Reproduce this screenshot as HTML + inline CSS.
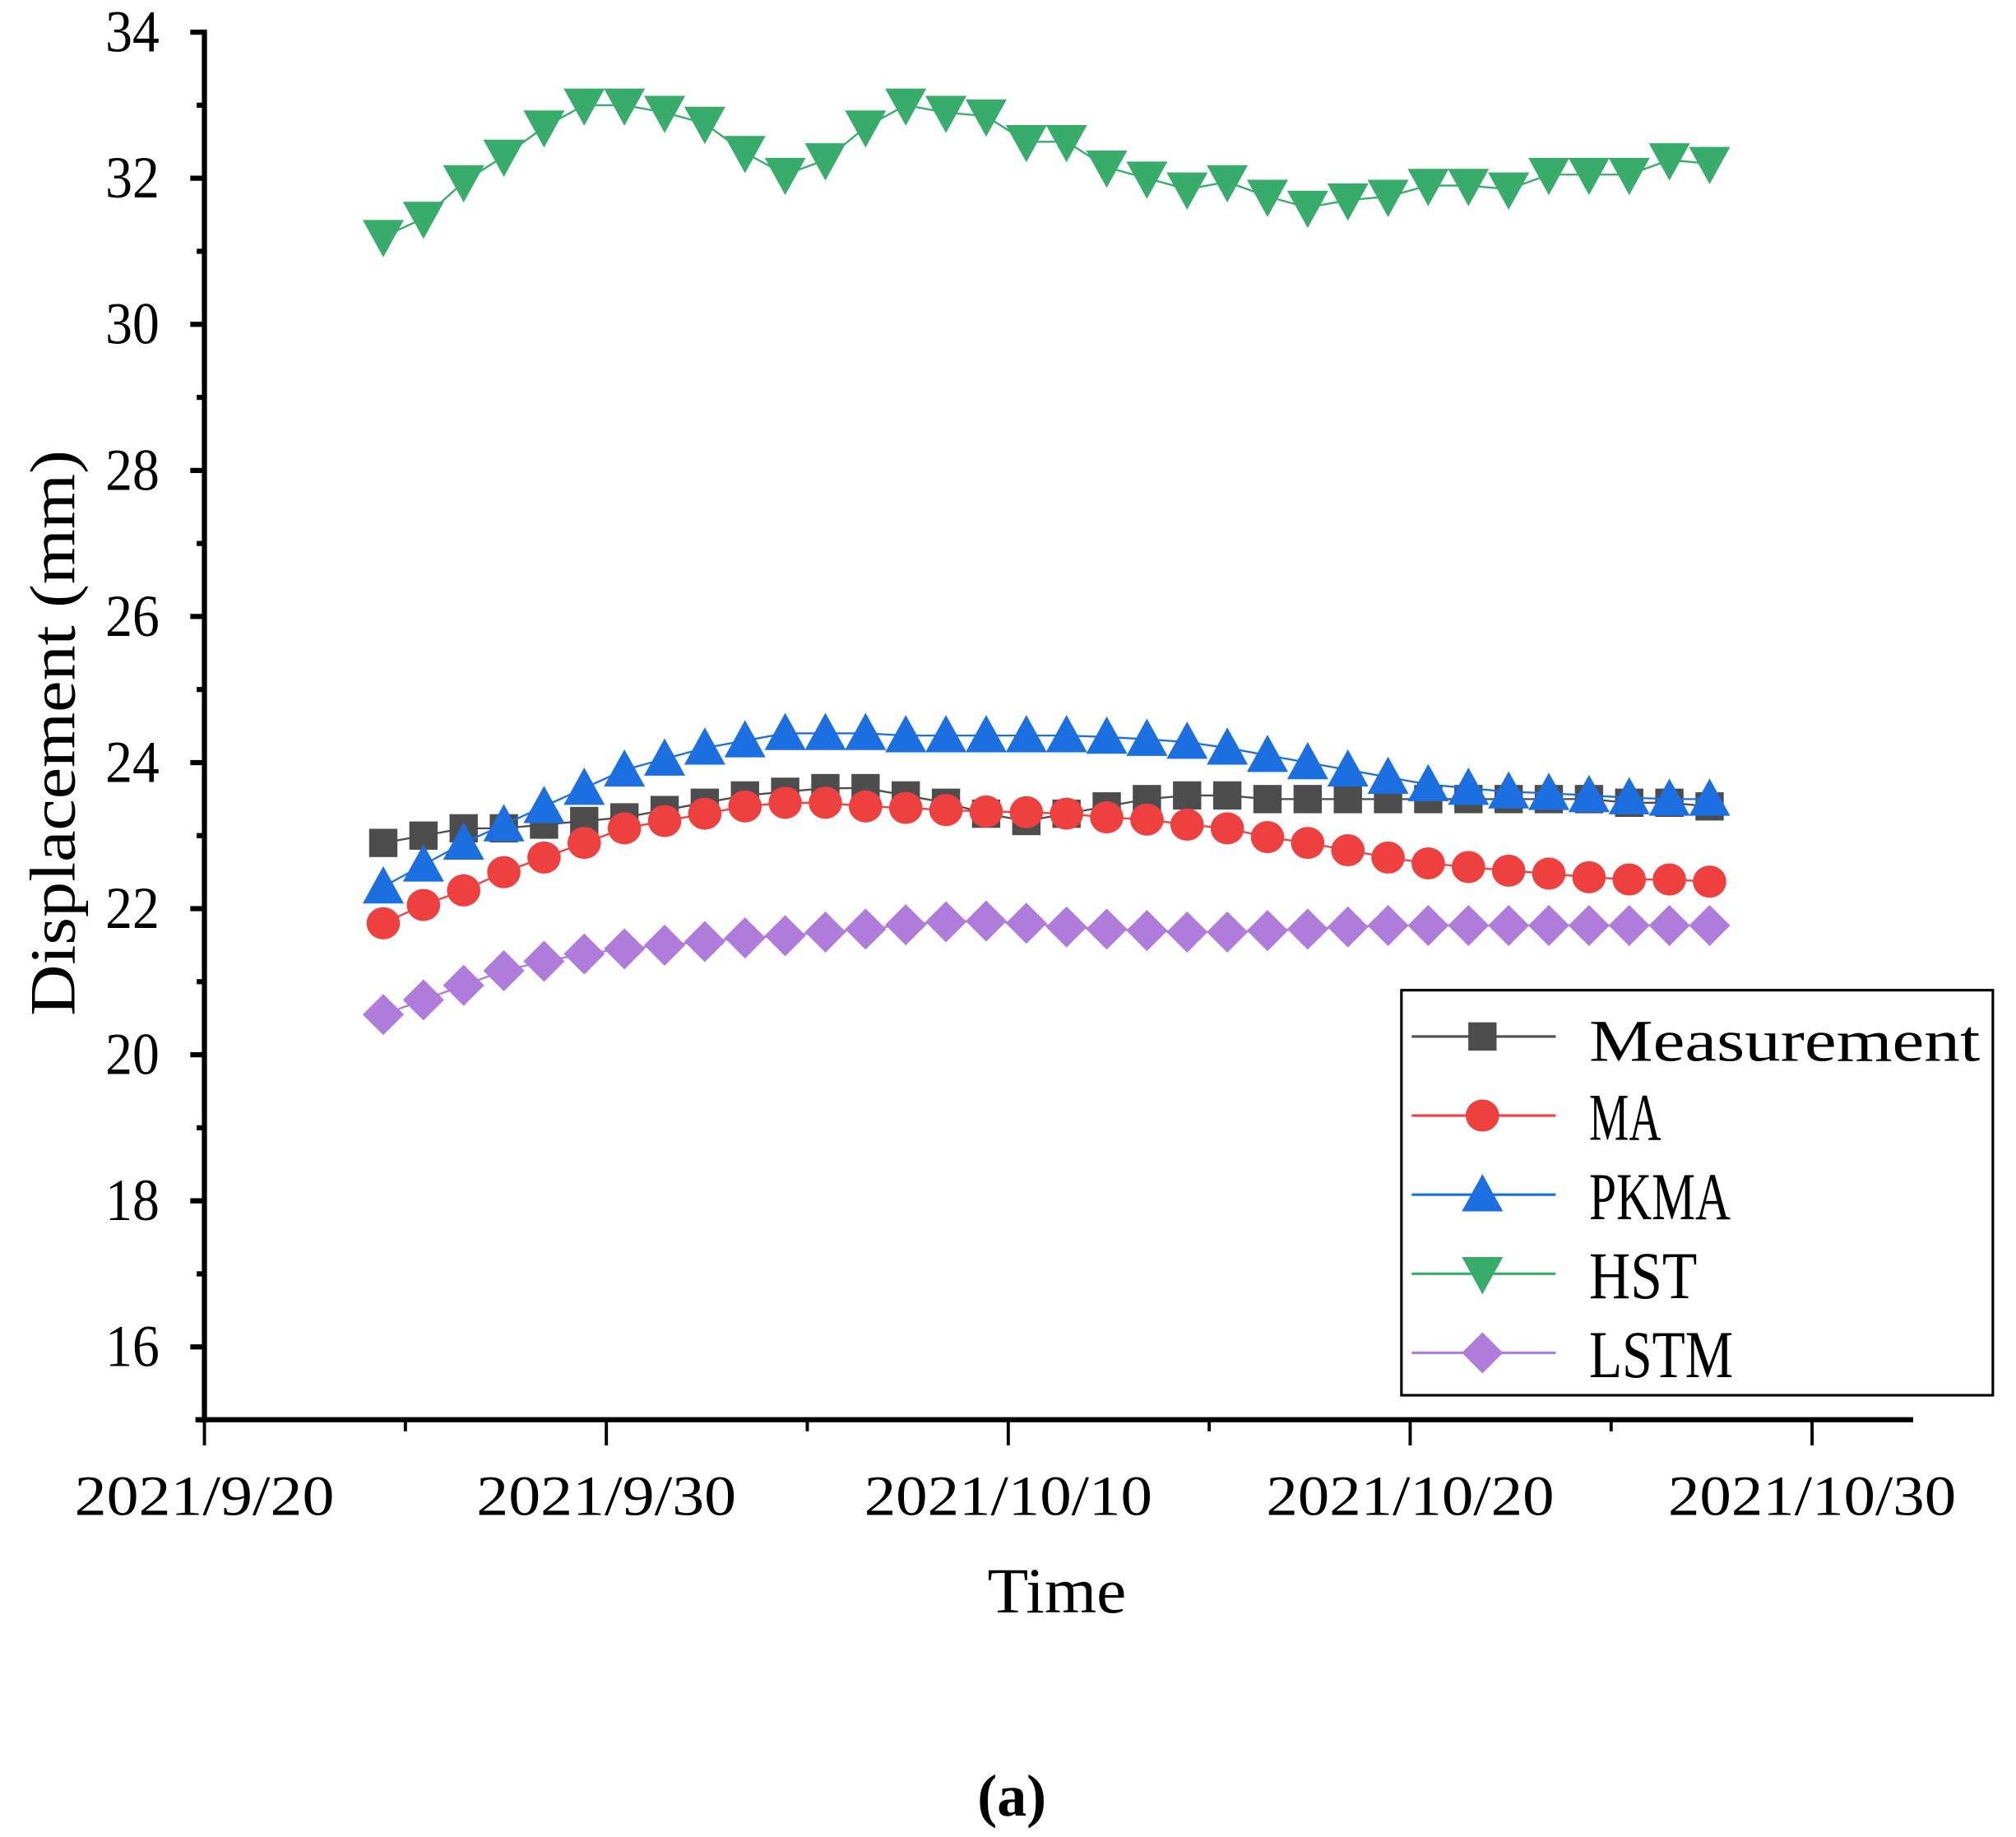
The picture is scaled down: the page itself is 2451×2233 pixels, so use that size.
<!DOCTYPE html>
<html><head><meta charset="utf-8"><style>html,body{margin:0;padding:0;background:#fff}svg{display:block}</style></head>
<body>
<svg id="chart" width="2451" height="2233" viewBox="0 0 1568 1428.5" xmlns="http://www.w3.org/2000/svg" font-family="'Liberation Serif', serif">
<rect width="1568" height="1428.5" fill="#fff"/>
<g id="axes"></g>
<g id="series"></g>
<g id="legend"></g>
</svg>
<script>
const categoriesStartDay = 4.45; // days after 2021/9/20 for first point
const measurement = [22.9,23.0,23.1,23.1,23.15,23.2,23.25,23.35,23.45,23.55,23.6,23.65,23.65,23.55,23.45,23.3,23.2,23.3,23.4,23.5,23.55,23.55,23.5,23.5,23.5,23.5,23.5,23.5,23.5,23.5,23.5,23.45,23.45,23.4];
const ma = [21.8,22.05,22.25,22.5,22.7,22.9,23.1,23.2,23.3,23.4,23.45,23.45,23.4,23.38,23.35,23.33,23.32,23.3,23.25,23.22,23.15,23.1,22.98,22.9,22.8,22.7,22.62,22.57,22.52,22.48,22.43,22.4,22.4,22.37];
const pkma = [22.3,22.6,22.9,23.15,23.4,23.65,23.9,24.05,24.2,24.3,24.4,24.4,24.4,24.37,24.37,24.37,24.37,24.37,24.35,24.32,24.28,24.2,24.1,24.0,23.9,23.8,23.7,23.65,23.6,23.58,23.55,23.52,23.5,23.5];
const hst = [31.2,31.45,31.95,32.3,32.7,33.0,33.0,32.9,32.75,32.35,32.05,32.25,32.7,33.0,32.9,32.85,32.5,32.5,32.15,32.0,31.85,31.95,31.75,31.6,31.7,31.75,31.9,31.9,31.85,32.05,32.05,32.05,32.25,32.2];
const lstm = [20.55,20.75,20.95,21.15,21.28,21.38,21.45,21.5,21.55,21.6,21.63,21.68,21.72,21.78,21.82,21.83,21.8,21.75,21.72,21.7,21.68,21.68,21.7,21.72,21.75,21.77,21.77,21.77,21.77,21.77,21.77,21.77,21.77,21.77];
const yTicks = [16,18,20,22,24,26,28,30,32,34];
const xTickLabels = ["2021/9/20","2021/9/30","2021/10/10","2021/10/20","2021/10/30"];
const xTickDays = [0,10,20,30,40];

const NS="http://www.w3.org/2000/svg";
function X(d){return 159+d*31.26;}
function Y(v){return 25+(34-v)*56.8;}
function mk(tag,attrs,parent){const e=document.createElementNS(NS,tag);for(const k in attrs)e.setAttribute(k,attrs[k]);parent.appendChild(e);return e;}
const axes=document.getElementById('axes');
let yl=mk('line',{x1:159,y1:23,x2:159,y2:1106,stroke:'#000','stroke-width':4},axes);


for(let v=15;v<=34;v++){
  const major=v%2===0;
  const t=mk('line',{x1:major?148:153,y1:Y(v),x2:159,y2:Y(v),stroke:'#000','stroke-width':4},axes);
  
  
}
yTicks.forEach(v=>{
  const t=mk('text',{x:124,y:Y(v)+15,'font-size':46,'text-anchor':'end',textLength:42,lengthAdjust:'spacingAndGlyphs'},axes);
  t.textContent=v;
  
  
});
let xl=mk('line',{x1:152,y1:1104,x2:1488,y2:1104,stroke:'#000','stroke-width':4},axes);


for(let d=0;d<=40;d+=5){
  const major=d%10===0;
  const t=mk('line',{x1:X(d),y1:1104,x2:X(d),y2:major?1124:1113,stroke:'#000','stroke-width':2.5},axes);
  
  
}
xTickLabels.forEach((s,i)=>{
  const w=s.length>9?224:202;
  const t=mk('text',{x:X(xTickDays[i]),y:1178,'font-size':44,'text-anchor':'middle',textLength:w,lengthAdjust:'spacingAndGlyphs'},axes);
  t.textContent=s;
  
  
});
let xt=mk('text',{x:822,y:1254,'font-size':50,'text-anchor':'middle',textLength:108,lengthAdjust:'spacingAndGlyphs'},axes);
xt.textContent='Time';


let yt=mk('text',{x:0,y:0,'font-size':50,'text-anchor':'middle',textLength:440,lengthAdjust:'spacingAndGlyphs',transform:'translate(58,570) rotate(-90)'},axes);
yt.textContent='Displacement (mm)';


let cap=mk('text',{x:787,y:1412,'font-size':46,'font-weight':'bold','text-anchor':'middle'},axes);
cap.textContent='(a)';



function marker(type,cx,cy,color,parent){
  let e;
  if(type==='square') e=mk('rect',{x:cx-11,y:cy-11,width:22,height:22,fill:color},parent);
  else if(type==='circle') e=mk('ellipse',{cx:cx,cy:cy,rx:13,ry:12.5,fill:color},parent);
  else if(type==='up') e=mk('polygon',{points:`${cx},${cy-16} ${cx-16},${cy+13} ${cx+16},${cy+13}`,fill:color},parent);
  else if(type==='down') e=mk('polygon',{points:`${cx-16},${cy-13} ${cx+16},${cy-13} ${cx},${cy+16}`,fill:color},parent);
  else e=mk('polygon',{points:`${cx},${cy-16} ${cx+16},${cy} ${cx},${cy+16} ${cx-16},${cy}`,fill:color},parent);
  return e;
}
const seriesDefs=[
  {name:'Measurement',data:measurement,color:'#4d4d4d',m:'square',key:'measurement'},
  {name:'MA',data:ma,color:'#ef4040',m:'circle',key:'ma'},
  {name:'PKMA',data:pkma,color:'#1c6fe0',m:'up',key:'pkma'},
  {name:'HST',data:hst,color:'#38ad6b',m:'down',key:'hst'},
  {name:'LSTM',data:lstm,color:'#b07cdc',m:'diamond',key:'lstm'}
];
const sg=document.getElementById('series');
seriesDefs.forEach(s=>{
  const g=mk('g',{},sg);
  
  
  const pts=s.data.map((v,i)=>X(categoriesStartDay+i)+','+Y(v)).join(' ');
  const pl=mk('polyline',{points:pts,fill:'none',stroke:s.color,'stroke-width':1.5},g);
  
  
  s.data.forEach((v,i)=>{
    const p=marker(s.m,X(categoriesStartDay+i),Y(v),s.color,g);
    
    
  });
});
const lg=document.getElementById('legend');


mk('rect',{x:1090,y:770,width:460,height:315,fill:'#fff',stroke:'#000','stroke-width':2},lg);
const lw=[304,56,110,84,112];
seriesDefs.forEach((s,i)=>{
  const y=806+i*61.5;
  const g=mk('g',{},lg);
  
  
  mk('line',{x1:1098,y1:y,x2:1210,y2:y,stroke:s.color,'stroke-width':2},g);
  marker(s.m,1153,y,s.color,g);
  const t=mk('text',{x:1236,y:y+19,'font-size':i===0?46:52,textLength:lw[i],lengthAdjust:'spacingAndGlyphs'},g);
  t.textContent=s.name;
});
</script>
</body></html>
